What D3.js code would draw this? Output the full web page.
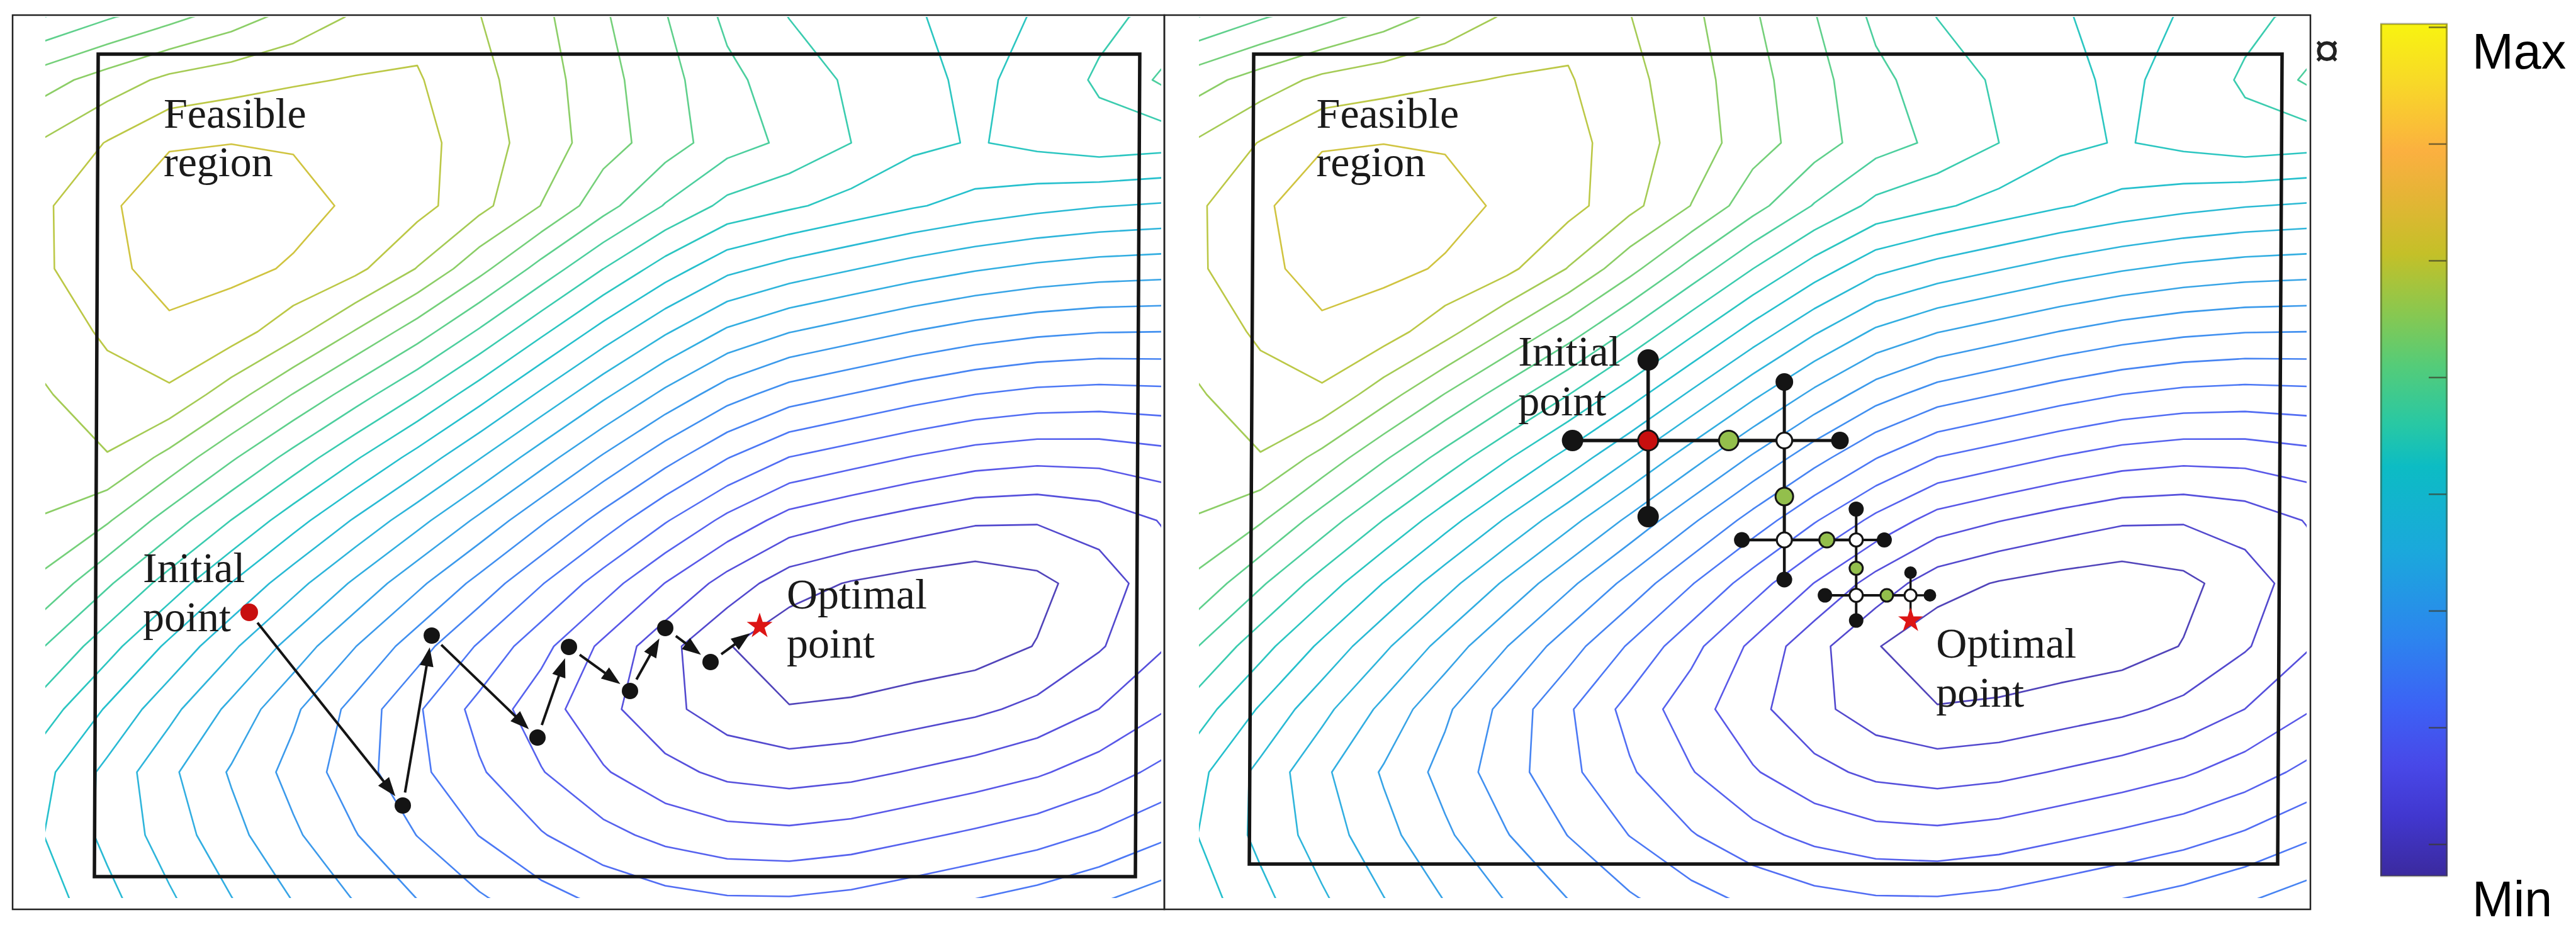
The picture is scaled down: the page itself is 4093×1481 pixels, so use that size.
<!DOCTYPE html>
<html><head><meta charset="utf-8">
<script src="https://cdn.jsdelivr.net/npm/d3@7"></script>
<style>html,body{margin:0;padding:0;background:#fff;} svg{display:block;}</style>
</head><body>
<svg id="chart" width="4093" height="1481"></svg>
<script>
// ================= DATA =================
const domainX = [0, 17.73];
const domainY = [0, 14.0];

// contour levels (0 = innermost loop round the optimum, 23 = innermost loop of the feasible-region peak)
const contourLevels = [0,1,2,3,4,5,6,7,8,9,10,11,12,13,14,15,16,17,18,19,20,21,22,23];

// valley round the optimum
const valleyCenter = [13.38, 4.37];
const valleyAngle = 12;
const valleyHalfLength = 1.1;
const valleyStretchLeft = 1.8, valleyStretchRight = 2.0;
const valleyScaleUpFar = 0.82, valleyScaleUpNear = 0.9, valleyScaleDown = 1.25;
const valleyCross = 0.8;
const valleyCore = 0.9, valleyOffset = 1.25, valleySpacing = 0.42;

// upper surface: level met along the top edge
const topEdgeX     = [-1.0, 0.0, 1.18, 2.49, 3.65, 4.93, 5.90, 6.83, 8.12, 8.95, 9.89, 10.60, 11.78, 13.96, 15.10, 15.67, 17.68, 19.0];
const topEdgeLevel = [16.5, 17.0, 18.0, 19.0, 20.0, 21.0, 21.6, 21.0, 20.0, 19.0, 18.0, 17.0, 16.0, 15.0, 14.6, 15.0, 16.3, 17.0];
// swell of the upper surface below the top edge
const swellX     = [0, 2, 4.7, 6.1, 9, 12, 13.5, 16, 18];
const swellLevel = [1.3, 1.2, 0.4, 0.05, 0.1, 0.3, 0.05, 0.1, 0.5];
const swellAmount = 3.4, swellDepth = 3.7;
const peakCenter = [2.88, 11.2];
const peakAngle = 12;
const peakSpread = [2.5, 1.3];
const peakHeight = 1.1;
const blendWidth = 0.35;

// left panel: gradient-descent path
const gdPathX = [3.24, 5.68, 6.14, 7.82, 8.32, 9.29, 9.85, 10.57, 11.35];
const gdPathY = [4.54, 1.47, 4.17, 2.55, 3.99, 3.29, 4.29, 3.75, 4.32];

// right panel: pattern-search nodes
const psNodeX = [7.19, 5.98, 7.19, 7.19, 8.48, 9.37, 10.26, 9.37, 9.37, 9.37, 8.69, 9.37, 10.05, 10.52, 10.97, 10.52, 10.52, 10.52, 10.02, 10.52, 11.01, 11.39, 11.70, 11.39, 11.39];
const psNodeY = [7.27, 7.27, 8.55, 6.06, 7.27, 7.27, 7.27, 8.20, 6.38, 5.69, 5.69, 5.06, 5.69, 5.69, 5.69, 6.18, 5.24, 4.81, 4.81, 4.41, 4.81, 4.81, 4.81, 5.17, 4.41];
const psNodeKind = ["start","probe","probe","probe","success","center","probe","probe","success","center","probe","probe","success","center","probe","probe","success","center","probe","probe","success","center","probe","probe","end"];
const psNodeStage = [0,0,0,0,0,1,1,1,1,2,2,2,2,3,3,3,3,4,4,4,4,5,5,5,5];
const psSegFrom = [1,0,4,5,2,0,7,5,8,9,10,9,12,13,15,13,16,17,18,17,20,21,23,21];
const psSegTo   = [0,4,5,6,0,3,5,8,9,11,9,12,13,14,13,16,17,19,17,20,21,22,21,24];

// text labels (x of start, y of baseline, in data units)
const leftLabelText = ["Feasible","region","Initial","point","Optimal","point"];
const leftLabelX = [1.88, 1.88, 1.55, 1.55, 11.78, 11.78];
const leftLabelY = [12.24, 11.47, 5.02, 4.24, 4.60, 3.82];
const rightLabelText = ["Feasible","region","Initial","point","Optimal","point"];
const rightLabelX = [1.88, 1.88, 5.11, 5.11, 11.80, 11.80];
const rightLabelY = [12.24, 11.47, 8.46, 7.67, 3.82, 3.04];

// colour bar
const colorStopT = [0, 0.07, 0.13, 0.20, 0.28, 0.38, 0.48, 0.53, 0.60, 0.66, 0.73, 0.80, 0.85, 0.93, 1.0];
const colorStopHex = ["#3b2a9e","#4137cf","#4848e8","#3c62f5","#2c85ee","#1ba8dc","#0cbcc4","#28c8a4","#55cc78","#88c850","#c4c028","#e6b436","#fbb040","#f8d828","#f8f410"];
const colorbarTicks = [0.037, 0.174, 0.311, 0.448, 0.585, 0.722, 0.859, 0.996];
const colorbarLabelText = ["Max", "Min"];
const colorbarLabelValue = [1, 0];
const levelColorRange = [0.03, 0.744];

// ================= DRAWING =================
const svg = d3.select("#chart");
const serif = "'Liberation Serif','Times New Roman',serif";
const sans = "'Liberation Sans',Arial,sans-serif";
const ink = "#141414";

const parula = d3.scaleLinear().domain(colorStopT).range(colorStopHex).interpolate(d3.interpolateRgb);
const levelToT = d3.scaleLinear().domain([contourLevels[0], contourLevels[contourLevels.length-1]]).range(levelColorRange);
const topScale = d3.scaleLinear().domain(topEdgeX).range(topEdgeLevel).clamp(true);
const swellScale = d3.scaleLinear().domain(swellX).range(swellLevel).clamp(true);

function rot(dx, dy, deg) {
  const a = deg * Math.PI / 180;
  return [dx*Math.cos(a) + dy*Math.sin(a), -dx*Math.sin(a) + dy*Math.cos(a)];
}
function smoothstep(a, b, x) { const t = Math.min(Math.max((x-a)/(b-a), 0), 1); return t*t*(3-2*t); }
function valleyLevel(x, y) {
  const [p, q] = rot(x - valleyCenter[0], y - valleyCenter[1], valleyAngle);
  const left = p < 0;
  const fp = Math.max(Math.abs(p) - valleyHalfLength, 0) / (left ? valleyStretchLeft : valleyStretchRight);
  const up = valleyScaleUpFar + (valleyScaleUpNear - valleyScaleUpFar) * smoothstep(-7, -1, p);
  const fq = q > 0 ? q / up : -q / valleyScaleDown;
  const k = (left && q > 0) ? valleyCross : 0;
  const D = Math.sqrt(fp*fp + fq*fq + k*fp*fq);
  return (Math.sqrt(D*D + valleyCore*valleyCore) - valleyOffset) / valleySpacing;
}
function upperLevel(x, y) {
  const d = domainY[1] - y;
  const swell = swellAmount * (d / swellDepth) * Math.exp(1 - d / swellDepth);
  const [a, b] = rot(x - peakCenter[0], y - peakCenter[1], peakAngle);
  return topScale(x) + swellScale(x) * swell
    + peakHeight * Math.exp(-(a*a/(2*peakSpread[0]**2) + b*b/(2*peakSpread[1]**2)));
}
function field(x, y) {
  const V = valleyLevel(x, y), R = upperLevel(x, y);
  const m = Math.min(V, R);
  return m - blendWidth * Math.log(1 + Math.exp(-Math.abs(V - R) / blendWidth));
}

const cellsX = 18, cellsY = 14;
const sx = (domainX[1]-domainX[0]) / cellsX, sy = (domainY[1]-domainY[0]) / cellsY;
const nx = cellsX + 3, ny = cellsY + 3;
const gridVals = new Array(nx*ny);
for (let j = 0; j < ny; j++) for (let i = 0; i < nx; i++) {
  gridVals[j*nx + i] = field(domainX[0] + (i-1)*sx, domainY[1] - (j-1)*sy);
}
const contourSet = d3.contours().size([nx, ny]).thresholds(contourLevels)(gridVals);

const panels = [
  {id:"L", x:[72,1845], y:[1427,27], outer:[20,24,1850,1445], inner:[[156,86],[1811,86],[1804,1393],[150,1393]]},
  {id:"R", x:[1905,3665], y:[1427,27], outer:[1850,24,3671,1445], inner:[[1992,86],[3626,86],[3619,1373],[1985,1373]]}
];
const defs = svg.append("defs");

function drawPanel(pn) {
  const xs = d3.scaleLinear().domain(domainX).range(pn.x);
  const ys = d3.scaleLinear().domain(domainY).range(pn.y);
  pn.xs = xs; pn.ys = ys;
  defs.append("clipPath").attr("id", "clip"+pn.id).append("rect")
    .attr("x", pn.x[0]).attr("y", pn.y[1]).attr("width", pn.x[1]-pn.x[0]).attr("height", pn.y[0]-pn.y[1]);
  const proj = d3.geoTransform({point: function(cx, cy) {
    this.stream.point(xs(domainX[0] + (cx-1.5)*sx), ys(domainY[1] - (cy-1.5)*sy));
  }});
  const path = d3.geoPath(proj);
  const g = svg.append("g").attr("clip-path", "url(#clip"+pn.id+")");
  g.selectAll("path").data(contourSet).join("path")
    .attr("d", path).attr("fill", "none")
    .attr("stroke", d => parula(levelToT(d.value)))
    .attr("stroke-width", 2.6).attr("stroke-opacity", 0.9)
    .attr("stroke-linejoin", "round");
  svg.append("path").attr("d", "M" + pn.inner.map(p => p.join(",")).join("L") + "Z")
    .attr("fill", "none").attr("stroke", ink).attr("stroke-width", 5.5);
  const o = pn.outer;
  svg.append("rect").attr("x", o[0]).attr("y", o[1]).attr("width", o[2]-o[0]).attr("height", o[3]-o[1])
    .attr("fill", "none").attr("stroke", "#222").attr("stroke-width", 2.5);
}
panels.forEach(drawPanel);

function drawLabels(pn, texts, lx, ly) {
  svg.append("g").selectAll("text").data(texts).join("text")
    .attr("x", (d,i) => pn.xs(lx[i])).attr("y", (d,i) => pn.ys(ly[i]))
    .attr("font-family", serif).attr("font-size", 68).attr("fill", "#1a1a1a")
    .text(d => d);
}

(function() {
  const pn = panels[0];
  const pts = gdPathX.map((x,i) => [pn.xs(x), pn.ys(gdPathY[i])]);
  const g = svg.append("g");
  const dotR = 13, headLen = 30, headW = 22;
  for (let i = 0; i < pts.length - 1; i++) {
    const [ax, ay] = pts[i], [bx, by] = pts[i+1];
    const dx = bx-ax, dy = by-ay, len = Math.hypot(dx, dy);
    const ux = dx/len, uy = dy/len, nxv = -uy, nyv = ux;
    const s0 = dotR + 8, e0 = dotR + 6;
    const sxp = ax + ux*s0, syp = ay + uy*s0;
    const tx = bx - ux*e0, ty = by - uy*e0;
    const hl = Math.min(headLen, (len - s0 - e0)*0.6);
    const hw = headW * hl / headLen;
    g.append("line").attr("x1", sxp).attr("y1", syp).attr("x2", tx - ux*hl*0.8).attr("y2", ty - uy*hl*0.8)
      .attr("stroke", ink).attr("stroke-width", 4);
    g.append("path").attr("d", `M${tx},${ty}L${tx-ux*hl+nxv*hw/2},${ty-uy*hl+nyv*hw/2}L${tx-ux*hl-nxv*hw/2},${ty-uy*hl-nyv*hw/2}Z`)
      .attr("fill", ink);
  }
  g.selectAll("circle").data(pts.slice(0, -1)).join("circle")
    .attr("cx", d => d[0]).attr("cy", d => d[1]).attr("r", (d,i) => i === 0 ? 14 : dotR)
    .attr("fill", (d,i) => i === 0 ? "#c80f0f" : ink);
  const last = pts[pts.length-1];
  g.append("path").attr("d", d3.symbol(d3.symbolStar, 520)()).attr("transform", `translate(${last[0]},${last[1]})`)
    .attr("fill", "#dd1515");
  drawLabels(pn, leftLabelText, leftLabelX, leftLabelY);
})();

(function() {
  const pn = panels[1];
  const P = psNodeX.map((x,i) => [pn.xs(x), pn.ys(psNodeY[i])]);
  const segWidth = [5.5, 5, 4.5, 4, 4, 3.5];
  const probeR = [17, 14, 12.5, 12, 11.5, 10];
  const centerR = [16, 12.5, 12, 10.5, 10.5, 9.5];
  const successR = [15.5, 14, 12, 10.5, 10, 10];
  const g = svg.append("g");
  psSegFrom.forEach((f, i) => {
    const t = psSegTo[i];
    const stage = (psNodeKind[t] === "center" || psNodeKind[f] === "success") ? psNodeStage[f] : Math.max(psNodeStage[f], psNodeStage[t]);
    g.append("line").attr("x1", P[f][0]).attr("y1", P[f][1]).attr("x2", P[t][0]).attr("y2", P[t][1])
      .attr("stroke", ink).attr("stroke-width", segWidth[stage]).attr("stroke-linecap", "round");
  });
  psNodeKind.forEach((k, i) => {
    const s = psNodeStage[i];
    if (k === "end") {
      g.append("path").attr("d", d3.symbol(d3.symbolStar, 480)()).attr("transform", `translate(${P[i][0]},${P[i][1]})`)
        .attr("fill", "#dd1515");
      return;
    }
    const c = g.append("circle").attr("cx", P[i][0]).attr("cy", P[i][1]);
    if (k === "probe") c.attr("r", probeR[s]).attr("fill", ink);
    else if (k === "start") c.attr("r", centerR[0]).attr("fill", "#c80f0f").attr("stroke", ink).attr("stroke-width", 3);
    else if (k === "success") c.attr("r", successR[s]).attr("fill", "#93bf4c").attr("stroke", ink).attr("stroke-width", 3);
    else c.attr("r", centerR[s]).attr("fill", "#ffffff").attr("stroke", ink).attr("stroke-width", 3.2);
  });
  drawLabels(pn, rightLabelText, rightLabelX, rightLabelY);
})();

svg.append("text").attr("x", 3697).attr("y", 106).attr("text-anchor", "middle")
  .attr("font-family", sans).attr("font-size", 74).attr("fill", "#222").text("\u00A4");

(function() {
  const cbX = 3782, cbW = 107;
  const cy = d3.scaleLinear().domain([0, 1]).range([1392, 38]);
  const grad = defs.append("linearGradient").attr("id", "cbGrad")
    .attr("x1", 0).attr("y1", 1).attr("x2", 0).attr("y2", 0);
  grad.selectAll("stop").data(colorStopT).join("stop")
    .attr("offset", d => d).attr("stop-color", (d,i) => colorStopHex[i]);
  svg.append("rect").attr("x", cbX).attr("y", cy(1)).attr("width", cbW).attr("height", cy(0)-cy(1))
    .attr("fill", "url(#cbGrad)");
  svg.append("rect").attr("x", cbX+1.5).attr("y", cy(1)).attr("width", cbW-3).attr("height", cy(0)-cy(1))
    .attr("fill", "none").attr("stroke", "rgba(70,70,40,0.45)").attr("stroke-width", 3);
  svg.append("g").selectAll("line").data(colorbarTicks).join("line")
    .attr("x1", cbX + cbW - 30).attr("x2", cbX + cbW - 2)
    .attr("y1", d => cy(d)).attr("y2", d => cy(d))
    .attr("stroke", "rgba(60,60,40,0.7)").attr("stroke-width", 2.5);
  svg.append("g").selectAll("text").data(colorbarLabelText).join("text")
    .attr("x", 3928).attr("y", (d,i) => colorbarLabelValue[i] === 1 ? 109 : 1456)
    .attr("font-family", sans).attr("font-size", 79).attr("fill", "#000")
    .text(d => d);
})();
</script>
</body></html>
